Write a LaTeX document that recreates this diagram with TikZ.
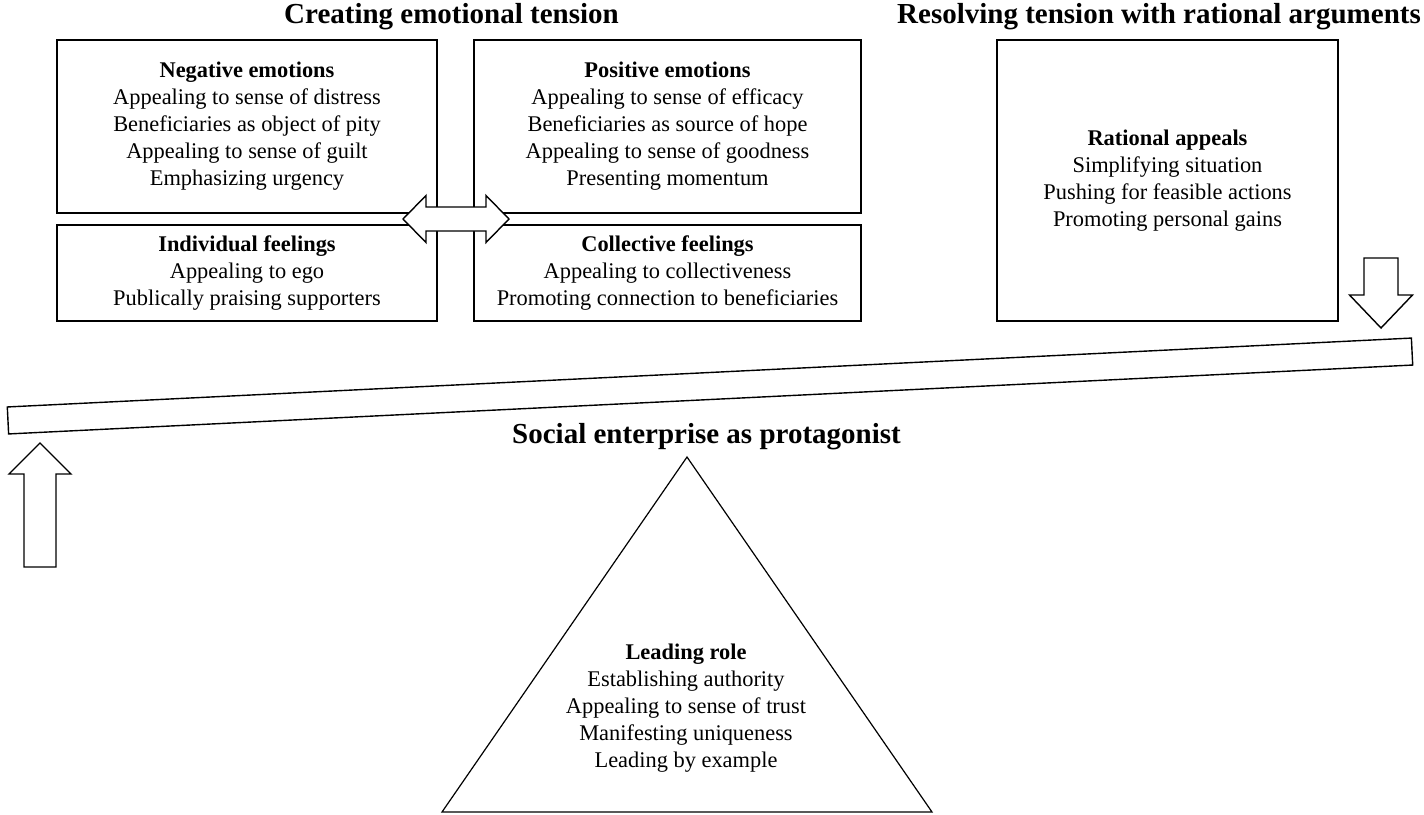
\documentclass[tikz,border=0pt]{standalone}
\usepackage{fontspec}
\setmainfont{Liberation Serif}
\usetikzlibrary{positioning, calc}

\tikzset{
	box/.style = {draw, line width = 0.9pt, align = center, inner sep = 0pt, font = \fontsize{11.2}{13.5}\selectfont},
	heading/.style = {font = \fontsize{14.5}{17}\selectfont\bfseries, inner sep = 0pt},
	blockarrow/.style = {draw, fill = white, line width = 0.7pt, line join = miter},
}

\begin{document}
\begin{tikzpicture} [x = 0.5pt, y = -0.5pt]

	\useasboundingbox (0,0) rectangle (1424,814);

		% Define coordinates.

	%double arrow between the emotion boxes
	\coordinate (swingL) at (403, 219);
	\coordinate (swingR) at (509, 219);

	%arrow pushing the beam down
	\coordinate (pushTail) at (1381, 258);
	\coordinate (pushTip) at (1381, 328);

	%arrow lifting the beam up
	\coordinate (liftTail) at (40, 567);
	\coordinate (liftTip) at (40, 443);

	%triangle
	\coordinate (apex) at (687, 457);
	\coordinate (baseL) at (442, 812);
	\coordinate (baseR) at (932, 812);

% Titles.

	\node [heading] (emotionTitle) at (451.5, 17) {Creating emotional tension};
	\node [heading] (rationalTitle) at (1159, 17) {Resolving tension with rational arguments};
	\node [heading] (protagonistTitle) at (706.5, 437) {Social enterprise as protagonist};

% Draw boxes.

	\node [box, minimum width = 190pt, minimum height = 86.5pt] (negative) at (247, 126.5)
		{\textbf{Negative emotions}\\ Appealing to sense of distress\\ Beneficiaries as object of pity\\ Appealing to sense of guilt\\ Emphasizing urgency};
	\node [box, minimum width = 190pt, minimum height = 48pt] (individual) at (247, 273)
		{\textbf{Individual feelings}\\ Appealing to ego\\ Publically praising supporters};
	\node [box, minimum width = 193.5pt, minimum height = 86.5pt] (positive) at (667.5, 126.5)
		{\textbf{Positive emotions}\\ Appealing to sense of efficacy\\ Beneficiaries as source of hope\\ Appealing to sense of goodness\\ Presenting momentum};
	\node [box, minimum width = 193.5pt, minimum height = 48pt] (collective) at (667.5, 273)
		{\textbf{Collective feelings}\\ Appealing to collectiveness\\ Promoting connection to beneficiaries};
	\node [box, minimum width = 170.5pt, minimum height = 140.5pt] (rational) at (1167.5, 180.5)
		{\textbf{Rational appeals}\\ Simplifying situation\\ Pushing for feasible actions\\ Promoting personal gains};

% Draw block arrows.

	\draw [blockarrow] (swingL) -- ++(23, -23.5) -- ++(0, 11.5) -- ++(60, 0) -- ++(0, -11.5)
		-- (swingR) -- ++(-23, 23.5) -- ++(0, -11.5) -- ++(-60, 0) -- ++(0, 11.5) -- cycle;

	\draw [blockarrow] (pushTip) -- ++(-31.5, -33) -- ++(14.5, 0) |- (pushTail) -| ++(17, 37) -- ++(14.5, 0) -- cycle;

	\draw [blockarrow] (liftTip) -- ++(-31, 31) -- ++(15, 0) |- (liftTail) -| ++(16, -93) -- ++(15, 0) -- cycle;

% Draw beam and triangle.

	\node [draw, line width = 0.7pt, minimum width = 702.9pt, minimum height = 13.5pt, inner sep = 0pt, rotate = 2.81] (beam) at (710, 386) {};

	\draw [line width = 0.6pt] (apex) -- (baseR) -- (baseL) -- cycle;

	\node [box, draw = none] (leading) at (686, 708)
		{\textbf{Leading role}\\ Establishing authority\\ Appealing to sense of trust\\ Manifesting uniqueness\\ Leading by example};

\end{tikzpicture}
\end{document}
